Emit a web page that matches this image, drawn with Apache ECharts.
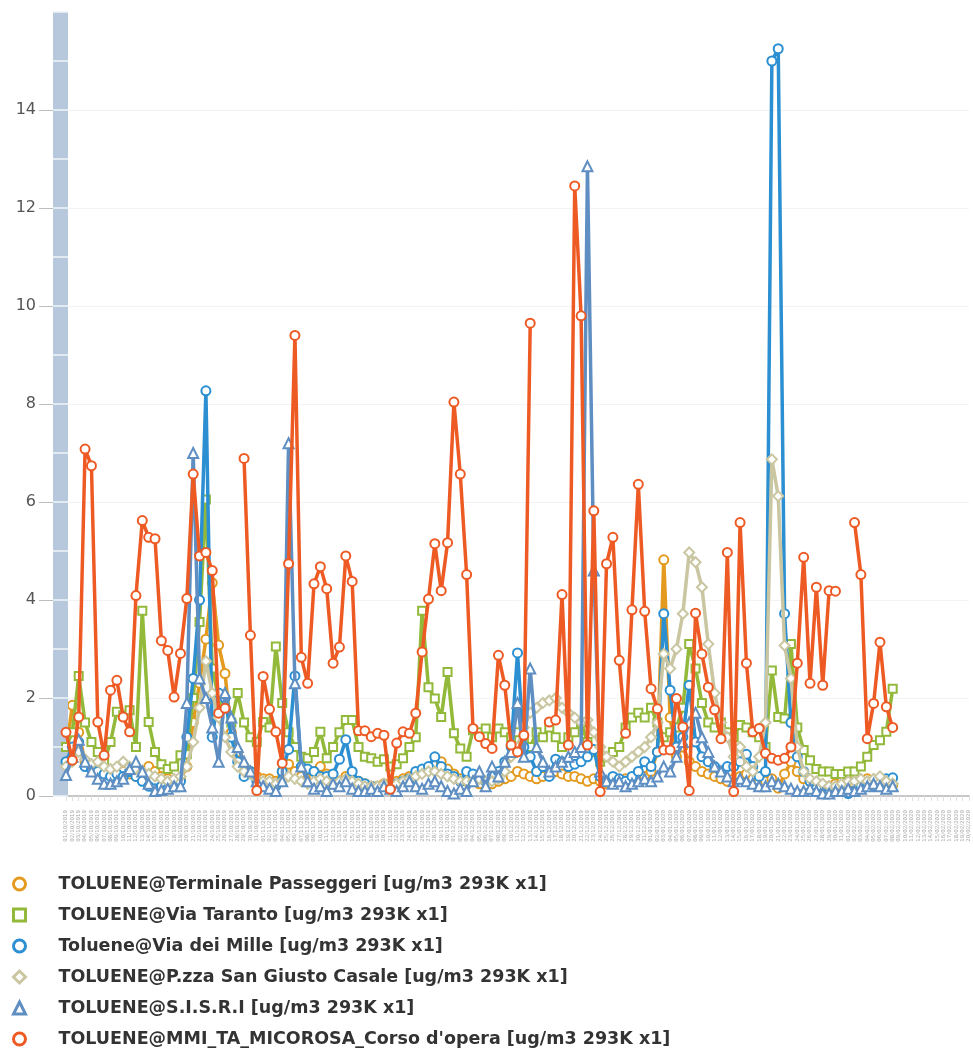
<!DOCTYPE html>
<html>
<head>
<meta charset="utf-8">
<script src="https://cdn.jsdelivr.net/npm/echarts@6/dist/echarts.min.js"></script>
<style>
html,body{margin:0;padding:0;background:#fff;}
#chart{width:973px;height:1063px;}
</style>
</head>
<body>
<div id="chart"></div>
<script>
// ---- data ----
var seriesNames = [
  'TOLUENE@Terminale Passeggeri [ug/m3 293K x1]',
  'TOLUENE@Via Taranto [ug/m3 293K x1]',
  'Toluene@Via dei Mille [ug/m3 293K x1]',
  'TOLUENE@P.zza San Giusto Casale [ug/m3 293K x1]',
  'TOLUENE@S.I.S.R.I [ug/m3 293K x1]',
  "TOLUENE@MMI_TA_MICOROSA_Corso d'opera [ug/m3 293K x1]"
];

var terminale = [0.9,1.85,1.3,0.7,0.6,0.5,0.45,0.5,0.55,0.5,
 0.45,0.4,0.5,0.6,0.5,0.4,0.35,0.3,0.35,0.6,
 1.5,2.3,3.2,4.35,3.08,2.5,1.3,0.9,0.6,0.5,
 0.4,0.35,0.35,0.3,0.5,0.65,0.5,0.4,0.35,0.4,
 0.6,0.45,0.35,0.3,0.4,0.35,0.3,0.25,0.2,0.2,
 0.25,0.2,0.3,0.35,0.4,0.45,0.5,0.55,0.65,0.7,
 0.55,0.45,0.35,0.3,0.3,0.25,0.3,0.25,0.3,0.35,
 0.4,0.5,0.45,0.4,0.35,0.4,0.45,0.5,0.45,0.4,
 0.4,0.35,0.3,0.35,0.3,0.25,0.3,0.3,0.35,0.3,
 0.35,0.4,0.5,0.9,4.82,1.6,0.8,1.0,0.7,0.6,
 0.5,0.45,0.4,0.35,0.3,0.35,0.4,0.45,0.35,0.3,
 0.3,0.35,0.16,0.45,0.7,0.5,0.35,0.3,0.25,0.2,
 0.2,0.25,0.3,0.3,0.25,0.3,0.35,0.3,0.3,0.25,
 0.22];

var viaTaranto = [1.0,1.3,2.45,1.5,1.1,0.9,0.7,1.1,1.72,1.65,
 1.75,1.0,3.78,1.51,0.9,0.65,0.55,0.6,0.83,0.85,
 2.0,3.55,6.05,2.6,2.0,1.8,1.5,2.1,1.5,1.2,
 1.1,1.51,1.4,3.05,1.9,1.3,1.0,0.8,0.77,0.9,
 1.31,0.77,1.0,1.3,1.55,1.55,1.0,0.8,0.77,0.7,
 0.75,0.6,0.65,0.77,1.0,1.2,3.78,2.22,1.99,1.61,
 2.53,1.28,0.97,0.8,1.34,1.3,1.38,1.2,1.38,1.3,
 1.2,1.3,1.15,1.0,1.3,1.2,1.4,1.2,1.0,1.2,
 1.3,1.5,1.1,0.9,0.7,0.8,0.9,1.0,1.4,1.6,
 1.7,1.6,1.8,1.5,1.2,1.3,1.4,1.8,3.1,2.6,
 1.9,1.5,1.4,1.5,1.3,1.2,1.45,1.4,1.3,1.2,
 1.0,2.56,1.61,1.58,3.1,1.4,0.94,0.73,0.55,0.5,
 0.5,0.45,0.45,0.5,0.5,0.6,0.8,1.04,1.14,1.31,
 2.19];

var viaDeiMille = [0.7,1.0,1.1,0.6,0.55,0.5,0.45,0.4,0.45,0.4,
 0.5,0.4,0.3,0.2,0.15,0.2,0.15,0.2,0.3,1.2,
 2.4,4.0,8.27,1.2,2.1,2.0,1.2,0.7,0.4,0.5,
 0.3,0.25,0.2,0.2,0.5,0.95,2.45,0.6,0.55,0.5,
 0.4,0.4,0.45,0.75,1.15,0.5,0.3,0.25,0.2,0.15,
 0.2,0.2,0.25,0.3,0.35,0.5,0.55,0.6,0.8,0.6,
 0.45,0.4,0.3,0.5,0.45,0.35,0.3,0.4,0.5,0.7,
 1.0,2.92,1.0,0.8,0.5,0.6,0.4,0.75,0.7,0.6,
 0.65,0.7,0.8,0.95,0.4,0.3,0.4,0.35,0.3,0.4,
 0.5,0.7,0.6,0.9,3.72,2.16,1.0,1.2,2.26,1.1,
 0.8,0.7,0.6,0.5,0.6,0.6,0.7,0.85,0.6,0.4,
 0.5,15.0,15.25,3.72,1.5,0.8,0.5,0.3,0.15,0.05,
 0.05,0.1,0.1,0.05,0.1,0.2,0.25,0.2,0.3,0.35,
 0.37];

var sanGiusto = [0.6,0.7,0.9,0.75,0.65,0.7,0.6,0.55,0.6,0.7,
 0.6,0.55,0.5,0.45,0.4,0.35,0.3,0.35,0.4,0.6,
 1.1,1.8,2.75,2.1,1.6,1.2,0.9,0.6,0.5,0.45,
 0.35,0.3,0.3,0.25,0.3,0.4,0.35,0.3,0.25,0.3,
 0.35,0.3,0.25,0.3,0.35,0.3,0.25,0.2,0.2,0.2,
 0.25,0.2,0.25,0.3,0.35,0.4,0.45,0.5,0.5,0.45,
 0.4,0.35,0.3,0.3,0.3,0.35,0.3,0.3,0.35,0.5,
 0.8,1.0,1.4,1.7,1.8,1.9,1.95,2.0,1.8,1.7,
 1.6,1.5,1.55,1.3,1.0,0.8,0.7,0.6,0.7,0.8,
 0.9,1.0,1.2,1.5,2.9,2.6,3.0,3.72,4.97,4.77,
 4.26,3.1,2.1,1.5,1.2,0.8,1.0,0.6,0.5,0.8,
 1.5,6.87,6.12,3.07,2.4,1.0,0.5,0.35,0.3,0.25,
 0.2,0.2,0.25,0.3,0.3,0.35,0.3,0.35,0.4,0.3,
 0.25];

var sisri = [0.43,0.8,1.15,0.7,0.5,0.35,0.25,0.25,0.3,0.35,
 0.55,0.7,0.5,0.25,0.1,0.12,0.15,0.2,0.2,1.9,
 7.0,2.4,2.0,1.4,0.7,2.1,1.6,1.0,0.7,0.5,
 0.3,0.2,0.15,0.1,0.3,7.2,2.3,0.6,0.3,0.15,
 0.2,0.1,0.25,0.2,0.3,0.15,0.1,0.1,0.15,0.1,
 0.2,0.15,0.1,0.2,0.3,0.2,0.15,0.25,0.3,0.2,
 0.1,0.05,0.15,0.1,0.3,0.5,0.2,0.6,0.4,0.7,
 0.9,1.9,0.8,2.6,1.0,0.7,0.5,0.6,0.7,0.8,
 0.9,1.0,12.85,4.6,0.5,0.3,0.25,0.3,0.2,0.25,
 0.3,0.35,0.3,0.4,0.6,0.5,0.8,1.1,1.5,1.7,
 1.2,0.9,0.6,0.5,0.4,0.3,0.35,0.3,0.25,0.2,
 0.2,0.3,0.25,0.2,0.15,0.1,0.1,0.15,0.1,0.05,
 0.05,0.1,0.1,0.15,0.1,0.15,0.2,0.25,0.2,0.15,
 0.2];

var micorosa = [1.3,0.73,1.61,7.08,6.74,1.51,0.83,2.16,2.36,1.61,
 1.31,4.09,5.62,5.28,5.25,3.17,2.97,2.02,2.91,4.03,
 6.57,4.90,4.97,4.60,1.69,1.79,null,null,6.89,3.28,
 0.11,2.44,1.77,1.31,0.67,4.74,9.40,2.83,2.30,4.33,
 4.68,4.23,2.71,3.04,4.90,4.38,1.33,1.33,1.21,1.28,
 1.24,0.14,1.08,1.31,1.28,1.69,2.94,4.02,5.15,4.19,
 5.17,8.04,6.57,4.52,1.38,1.21,1.07,0.97,2.87,2.26,
 1.04,0.90,1.24,9.65,null,null,1.51,1.55,4.11,1.04,
 12.45,9.8,1.04,5.82,0.09,4.74,5.28,2.77,1.28,3.80,
 6.36,3.77,2.19,1.78,0.94,0.94,1.99,1.41,0.11,3.73,
 2.90,2.22,1.76,1.17,4.97,0.09,5.58,2.71,1.31,1.38,
 0.87,0.77,0.73,0.77,1.0,2.71,4.87,2.30,4.26,2.26,
 4.19,4.18,null,null,5.58,4.52,1.17,1.89,3.14,1.82,
 1.40];

// category labels (daily dates)
var categories = [];
(function(){
  var d = new Date(Date.UTC(2019, 9, 1));
  for (var i = 0; i < 143; i++) {
    var dd = ('0' + d.getUTCDate()).slice(-2);
    var mm = ('0' + (d.getUTCMonth() + 1)).slice(-2);
    categories.push(dd + '/' + mm + '/' + d.getUTCFullYear());
    d.setUTCDate(d.getUTCDate() + 1);
  }
})();

var yTicks = [0, 2, 4, 6, 8, 10, 12, 14];

var colors = ['#e39a1e', '#93b93b', '#2b8fd2', '#c9c6a1', '#5e8ec2', '#ee5a24'];
var symbols = ['emptyCircle', 'emptyRect', 'emptyCircle', 'emptyDiamond', 'emptyTriangle', 'emptyCircle'];
var legendIcons = ['circle', 'rect', 'circle', 'diamond', 'triangle', 'circle'];
var symbolSizes = [9, 8, 9, 10, 10, 9];
var dataSets = [terminale, viaTaranto, viaDeiMille, sanGiusto, sisri, micorosa];

var chart = echarts.init(document.getElementById('chart'), null, {renderer: 'canvas'});

var series = dataSets.map(function(arr, k){
  return {
    name: seriesNames[k],
    type: 'line',
    data: arr,
    xAxisIndex: 0,
    yAxisIndex: 0,
    symbol: symbols[k],
    symbolSize: symbolSizes[k],
    showAllSymbol: true,
    connectNulls: false,
    lineStyle: {color: colors[k], width: 3.5},
    itemStyle: {color: colors[k], borderColor: colors[k], borderWidth: 3},
    emphasis: {disabled: true},
    z: 2 + k
  };
});

var option = {
  animation: false,
  backgroundColor: '#ffffff',
  color: colors,
  grid: {left: 66, right: 4, top: 12, bottom: 267, containLabel: false},
  xAxis: {
    type: 'category',
    data: categories,
    boundaryGap: false,
    axisLine: {show: true, lineStyle: {color: '#c6c6c6', width: 2}},
    axisTick: {show: true, length: 5, alignWithLabel: true, lineStyle: {color: '#e0e0e0'}},
    axisLabel: {
      interval: 0, rotate: 90, fontSize: 5.5, color: '#a8a8a8', margin: 14,
      fontFamily: 'DejaVu Sans'
    },
    splitLine: {show: false}
  },
  yAxis: [
    {
      type: 'value', min: 0, max: 16, interval: 2, position: 'left', offset: 13,
      axisLine: {show: false},
      axisTick: {show: true, length: 14, customValues: yTicks, lineStyle: {color: '#bdbdbd', width: 1}},
      axisLabel: {
        fontSize: 16, color: '#555', margin: 17, fontFamily: 'DejaVu Sans',
        customValues: yTicks
      },
      splitLine: {show: true, lineStyle: {color: '#f3f3f3', width: 1}}
    },
    {
      type: 'value', min: 0, max: 16, interval: 1, position: 'left', offset: 5.5,
      axisLine: {show: true, lineStyle: {color: '#b8c8dc', width: 15, cap: 'butt'}},
      axisTick: {show: false}, axisLabel: {show: false}, splitLine: {show: false}, z: 3
    },
    {
      type: 'value', min: 0, max: 16, interval: 1, position: 'left', offset: -2,
      axisLine: {show: false},
      axisTick: {show: true, length: 15, lineStyle: {color: '#eef3f8', width: 1.5}},
      axisLabel: {show: false}, splitLine: {show: false}, z: 4
    }
  ],
  legend: {
    orient: 'vertical',
    left: 12,
    top: 875,
    padding: 0,
    itemWidth: 12,
    itemHeight: 12,
    itemGap: 13,
    selectedMode: false,
    data: seriesNames.map(function(n, k){
      return {name: n, icon: legendIcons[k], itemStyle: {color: '#ffffff', borderColor: colors[k], borderWidth: 3}};
    }),
    formatter: function(name){ return '{t|' + name + '}'; },
    textStyle: {
      rich: {
        t: {fontSize: 17.5, fontWeight: 'bold', color: '#333', fontFamily: 'DejaVu Sans', padding: [0, 0, 0, 28]}
      }
    }
  },
  series: series
};

chart.setOption(option);
</script>
</body>
</html>
